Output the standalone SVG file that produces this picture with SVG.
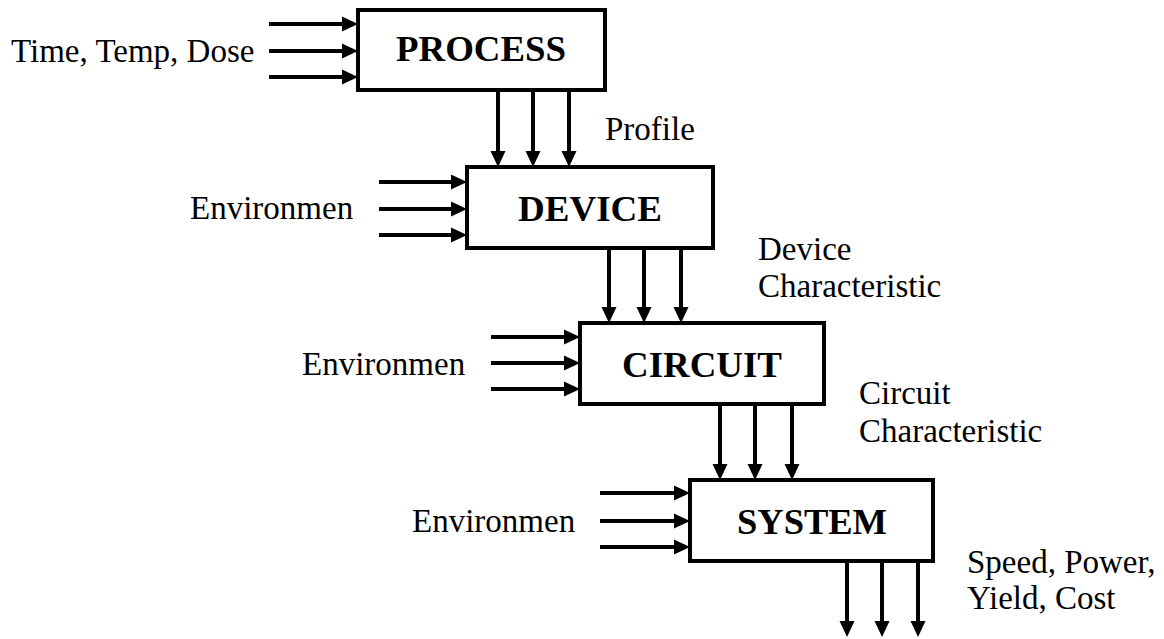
<svg xmlns="http://www.w3.org/2000/svg" width="1164" height="639" viewBox="0 0 1164 639">
  <defs>
    <style>
      .box { fill: #ffffff; stroke: #000000; stroke-width: 4; }
      .title { font-family: "Liberation Serif", "Times New Roman", serif; font-weight: bold; font-size: 36px; fill: #000000; text-anchor: middle; }
      .lbl { font-family: "Liberation Serif", "Times New Roman", serif; font-size: 33px; fill: #000000; }
      .wire { stroke: #000000; stroke-width: 4; fill: none; marker-end: url(#head); }
    </style>
    <!-- solid triangular arrowhead; line ends at its base -->
    <marker id="head" markerUnits="userSpaceOnUse" markerWidth="16" markerHeight="16" refX="0" refY="8" orient="auto" overflow="visible">
      <path d="M0,0.5 L16,8 L0,15.5 Z" fill="#000000"/>
    </marker>
  </defs>

  <rect width="1164" height="639" fill="#ffffff"/>

  <!-- connectors: input bundles and output bundles -->
  <g id="connectors">
    <!-- into PROCESS -->
    <line class="wire" x1="269" y1="24" x2="342" y2="24"/>
    <line class="wire" x1="269" y1="51" x2="342" y2="51"/>
    <line class="wire" x1="269" y1="77" x2="342" y2="77"/>
    <!-- PROCESS to DEVICE -->
    <line class="wire" x1="498" y1="90" x2="498" y2="151"/>
    <line class="wire" x1="533" y1="90" x2="533" y2="151"/>
    <line class="wire" x1="569" y1="90" x2="569" y2="151"/>
    <!-- into DEVICE -->
    <line class="wire" x1="379" y1="182" x2="451" y2="182"/>
    <line class="wire" x1="379" y1="209" x2="451" y2="209"/>
    <line class="wire" x1="379" y1="235" x2="451" y2="235"/>
    <!-- DEVICE to CIRCUIT -->
    <line class="wire" x1="609" y1="248" x2="609" y2="307"/>
    <line class="wire" x1="644" y1="248" x2="644" y2="307"/>
    <line class="wire" x1="681" y1="248" x2="681" y2="307"/>
    <!-- into CIRCUIT -->
    <line class="wire" x1="491" y1="337" x2="564" y2="337"/>
    <line class="wire" x1="491" y1="363" x2="564" y2="363"/>
    <line class="wire" x1="491" y1="389" x2="564" y2="389"/>
    <!-- CIRCUIT to SYSTEM -->
    <line class="wire" x1="720" y1="404" x2="720" y2="464"/>
    <line class="wire" x1="755" y1="404" x2="755" y2="464"/>
    <line class="wire" x1="792" y1="404" x2="792" y2="464"/>
    <!-- into SYSTEM -->
    <line class="wire" x1="600" y1="493" x2="674" y2="493"/>
    <line class="wire" x1="600" y1="521" x2="674" y2="521"/>
    <line class="wire" x1="600" y1="547" x2="674" y2="547"/>
    <!-- SYSTEM outputs -->
    <line class="wire" x1="847" y1="561" x2="847" y2="621"/>
    <line class="wire" x1="882" y1="561" x2="882" y2="621"/>
    <line class="wire" x1="918" y1="561" x2="918" y2="621"/>
  </g>

  <g id="process">
    <rect class="box" x="358" y="10" width="247" height="80"/>
    <text class="title" x="481" y="61" textLength="170" lengthAdjust="spacingAndGlyphs">PROCESS</text>
  </g>
  <g id="device">
    <rect class="box" x="467" y="167" width="246" height="81"/>
    <text class="title" x="590" y="221" textLength="144" lengthAdjust="spacingAndGlyphs">DEVICE</text>
  </g>
  <g id="circuit">
    <rect class="box" x="580" y="323" width="244" height="81"/>
    <text class="title" x="702" y="377" textLength="160" lengthAdjust="spacingAndGlyphs">CIRCUIT</text>
  </g>
  <g id="system">
    <rect class="box" x="690" y="480" width="243" height="81"/>
    <text class="title" x="812" y="534" textLength="150" lengthAdjust="spacingAndGlyphs">SYSTEM</text>
  </g>

  <!-- input and output labels -->
  <g id="labels">
    <text class="lbl" x="11" y="62">Time, Temp, Dose</text>
    <text class="lbl" x="605" y="140">Profile</text>
    <text class="lbl" x="190" y="219">Environmen</text>
    <text class="lbl" x="758" y="260">Device</text>
    <text class="lbl" x="758" y="297">Characteristic</text>
    <text class="lbl" x="302" y="375">Environmen</text>
    <text class="lbl" x="859" y="404">Circuit</text>
    <text class="lbl" x="859" y="442">Characteristic</text>
    <text class="lbl" x="412" y="532">Environmen</text>
    <text class="lbl" x="967" y="573">Speed, Power,</text>
    <text class="lbl" x="967" y="609">Yield, Cost</text>
  </g>
</svg>
